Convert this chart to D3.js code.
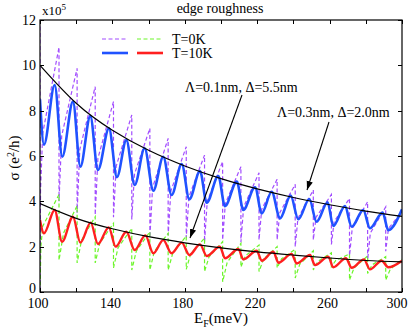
<!DOCTYPE html>
<html>
<head>
<meta charset="utf-8">
<script src="https://cdn.jsdelivr.net/npm/d3@7/dist/d3.min.js"></script>
<style>
body { margin: 0; background: #fff; }
svg { display: block; }
svg text { font-family: 'Liberation Serif', 'DejaVu Serif', serif; }
</style>
</head>
<body>
<div id="chart"></div>
<script>
'use strict';

// Energy of the dips (subband edges), meV
var dipE = [110.5, 120.5, 130.5, 140.6, 150.7, 160.7, 170.8, 180.8, 190.9, 200.9,
	211, 221, 231, 241, 251, 261, 271, 281, 291];

// T=0K, upper curve (purple, dashed): value just before each dip, just after, and a knee 1.5 meV later
var purpleStart = [[100, 12], [100, 0], [100.3, 4.5], [101.5, 7.0]];
var purplePeak = [10.8, 9.87, 9.06, 8.4, 7.81, 7.22, 6.78, 6.41, 6.04, 5.75,
	5.53, 5.26, 4.97, 4.75, 4.5, 4.3, 4.13, 3.98, 3.75];
var purpleMin = [4.0, 3.5, 3.4, 3.3, 3.2, 2.4, 2.5, 2.4, 2.2, 2.3,
	2.2, 2.3, 2.3, 2.0, 2.3, 2.1, 1.6, 1.4, 1.8];
var purpleKnee = [6.9, 6.3, 5.9, 5.55, 5.2, 4.6, 4.45, 4.2, 4.0, 3.9,
	3.75, 3.65, 3.5, 3.25, 3.3, 3.1, 2.8, 2.6, 2.8];
var purpleKneeDE = 1.5;
var purpleEnd = [300, 3.55];

// T=0K, lower curve (green, dashed)
var greenStart = [[100, 0], [100.5, 2.0], [101.5, 2.9]];
var greenPeak = [4.3, 3.8, 3.32, 3.03, 2.81, 2.66, 2.59, 2.47, 2.37, 2.22,
	2.15, 2.07, 2.0, 1.88, 1.82, 1.73, 1.68, 1.59, 1.56];
var greenMin = [1.4, 1.28, 1.28, 1.06, 0.97, 0.97, 0.97, 1.0, 0.9, 0.45,
	1.1, 0.9, 1.06, 0.62, 0.97, 1.12, 0.53, 0.82, 0.53];
var greenKnee = [2.6, 2.3, 2.15, 1.95, 1.8, 1.8, 1.7, 1.7, 1.55, 1.3,
	1.6, 1.45, 1.47, 1.22, 1.35, 1.4, 1.06, 1.2, 1.0];
var greenKneeDE = 2.5;
var greenEnd = [300, 1.45];

// T=10K, upper curve (blue): turning points
var blueE = [100, 102.2, 108.1, 112.3, 118.2, 122.3, 127.8, 132, 138.1, 142.5,
	147.7, 152.3, 157.8, 162.6, 168.1, 172.7, 178.3, 182.5, 188.4, 192.1,
	198.5, 202.2, 208.7, 212.3, 218.8, 222.5, 228, 232.6, 238.5, 242.7,
	248.8, 252.8, 258.9, 262, 268.5, 272.2, 278.6, 282.3, 289.3, 292.4, 300];
var blueS = [8.5, 6.5, 9.13, 5.97, 8.4, 5.53, 7.76, 5.38, 7.22, 5.07,
	6.7, 4.72, 6.34, 4.47, 5.97, 4.28, 5.65, 4.09, 5.34, 3.94,
	5.12, 3.79, 4.87, 3.62, 4.62, 3.47, 4.42, 3.25, 4.25, 3.21,
	4.10, 3.10, 3.96, 2.91, 3.79, 2.88, 3.62, 2.81, 3.50, 2.73, 3.65];

// T=10K, lower curve (red): turning points
var redE = [100, 102.2, 108.1, 112.2, 118.2, 122.3, 128, 132, 138, 141.8,
	147.7, 152.3, 158.2, 162.6, 168.1, 172.7, 178.3, 182.5, 188.4, 192.1,
	199.4, 202.2, 209.6, 212.3, 219.7, 222.5, 228.9, 231.7, 239, 241.8,
	249.2, 251.9, 259.3, 262, 269, 272.2, 279, 282.3, 288.8, 292.4, 300];
var redS = [3.18, 2.59, 3.62, 2.22, 3.32, 2.18, 3.06, 2.12, 2.85, 2.0,
	2.66, 1.85, 2.5, 1.71, 2.29, 1.71, 2.18, 1.63, 2.10, 1.59,
	2.0, 1.49, 1.90, 1.44, 1.82, 1.38, 1.78, 1.29, 1.68, 1.26,
	1.63, 1.19, 1.56, 1.09, 1.49, 1.07, 1.44, 1.0, 1.38, 1.09, 1.38];

// Black envelope curves
var envE = [100, 120, 140, 160, 180, 200, 220, 240, 260, 280, 300];
var envUpper = [10, 8.33, 7.14, 6.25, 5.56, 5.0, 4.55, 4.17, 3.85, 3.57, 3.34];
var envLower = [3.9, 3.25, 2.79, 2.44, 2.17, 1.95, 1.77, 1.63, 1.5, 1.39, 1.33];

var xTicks = [100, 120, 140, 160, 180, 200, 220, 240, 260, 280, 300];
var xLabels = [100, 140, 180, 220, 260, 300];
var yTicks = [0, 2, 4, 6, 8, 10, 12];

var colors = {
	purple: '#a24dff',
	green: '#6cf52a',
	blue: '#2052ff',
	red: '#ff1f1f',
};
var FONT = "'Liberation Serif', 'DejaVu Serif', serif";

// Builds the sawtooth path for a T=0K curve
function sawtooth(start, peak, min, knee, kneeDE, end) {
	var pts = start.slice();
	dipE.forEach(function(e, i) {
		pts.push([e, peak[i]]);
		pts.push([e, min[i]]);
		pts.push([e + kneeDE, knee[i]]);
	});
	pts.push(end);
	return pts;
}
function zip(a, b) {
	return a.map(function(v, i) { return [v, b[i]]; });
}

var W = 408, H = 332;
var margin = {top: 20, right: 6, bottom: 40, left: 40};
var width = W - margin.left - margin.right;
var height = H - margin.top - margin.bottom;

var svg = d3.select('#chart').append('svg')
	.attr('width', W)
	.attr('height', H)
	.attr('font-family', FONT)
	;

var xScale = d3.scaleLinear().domain([100, 300]).range([margin.left, margin.left + width]);
var yScale = d3.scaleLinear().domain([0, 12]).range([margin.top + height, margin.top]);

svg.append('clipPath').attr('id', 'plot')
	.append('rect')
	.attr('x', margin.left).attr('y', margin.top)
	.attr('width', width).attr('height', height);

var line = d3.line()
	.x(function(d) { return xScale(d[0]); })
	.y(function(d) { return yScale(d[1]); })
	;
var smooth = d3.line()
	.x(function(d) { return xScale(d[0]); })
	.y(function(d) { return yScale(d[1]); })
	.curve(d3.curveMonotoneX)
	;
var natural = d3.line()
	.x(function(d) { return xScale(d[0]); })
	.y(function(d) { return yScale(d[1]); })
	.curve(d3.curveNatural)
	;

var data = svg.append('g').attr('clip-path', 'url(#plot)');

// T=0K dashed curves
data.append('path')
	.attr('d', line(sawtooth(purpleStart, purplePeak, purpleMin, purpleKnee, purpleKneeDE, purpleEnd)))
	.attr('fill', 'none')
	.attr('stroke', colors.purple)
	.attr('stroke-width', 1.2)
	.attr('stroke-dasharray', '4,2.5');
data.append('path')
	.attr('d', line(sawtooth(greenStart, greenPeak, greenMin, greenKnee, greenKneeDE, greenEnd)))
	.attr('fill', 'none')
	.attr('stroke', colors.green)
	.attr('stroke-width', 1.2)
	.attr('stroke-dasharray', '4,2.5');

// T=10K solid curves
data.append('path')
	.attr('d', smooth(zip(blueE, blueS)))
	.attr('fill', 'none')
	.attr('stroke', colors.blue)
	.attr('stroke-width', 2.6);
data.append('path')
	.attr('d', smooth(zip(redE, redS)))
	.attr('fill', 'none')
	.attr('stroke', colors.red)
	.attr('stroke-width', 2.4);

// Envelopes
[envUpper, envLower].forEach(function(env) {
	data.append('path')
		.attr('d', natural(zip(envE, env)))
		.attr('fill', 'none')
		.attr('stroke', '#000')
		.attr('stroke-width', 1.2);
});

// Frame
svg.append('rect')
	.attr('x', margin.left).attr('y', margin.top)
	.attr('width', width).attr('height', height)
	.attr('fill', 'none')
	.attr('stroke', '#000')
	.attr('stroke-width', 1.2);

// Inward ticks on all four sides
var tickLen = 4;
var ticks = svg.append('g').attr('stroke', '#000').attr('stroke-width', 1);
xTicks.forEach(function(t) {
	var x = Math.round(xScale(t)) + 0.5;
	ticks.append('line').attr('x1', x).attr('x2', x)
		.attr('y1', margin.top + height).attr('y2', margin.top + height - tickLen);
	ticks.append('line').attr('x1', x).attr('x2', x)
		.attr('y1', margin.top).attr('y2', margin.top + tickLen);
});
yTicks.forEach(function(t) {
	var y = Math.round(yScale(t)) + 0.5;
	ticks.append('line').attr('y1', y).attr('y2', y)
		.attr('x1', margin.left).attr('x2', margin.left + tickLen);
	ticks.append('line').attr('y1', y).attr('y2', y)
		.attr('x1', margin.left + width).attr('x2', margin.left + width - tickLen);
});

// Tick labels (the last one is pulled in so it stays inside the picture)
svg.append('g').selectAll('text')
	.data(xLabels)
	.enter().append('text')
	.attr('x', function(d) { return Math.min(xScale(d) - 2, W - 11); })
	.attr('y', 308)
	.attr('text-anchor', 'middle')
	.attr('font-size', 14)
	.text(function(d) { return d; });
svg.append('g').selectAll('text')
	.data(yTicks)
	.enter().append('text')
	.attr('x', margin.left - 4)
	.attr('y', function(d) { return yScale(d) - (d === 0 ? 4 : 0); })
	.attr('dy', '0.35em')
	.attr('text-anchor', 'end')
	.attr('font-size', 14)
	.text(function(d) { return d; });

// Exponent
var expo = svg.append('text')
	.attr('x', 42).attr('y', 15)
	.attr('font-size', 13);
expo.append('tspan').text('x10');
expo.append('tspan').attr('dy', -5).attr('font-size', 9).text('5');

// Title
svg.append('text')
	.attr('x', 220).attr('y', 13)
	.attr('text-anchor', 'middle')
	.attr('font-size', 14)
	.text('edge roughness');

// Axis titles
var xt = svg.append('text')
	.attr('x', 221).attr('y', 323)
	.attr('text-anchor', 'middle')
	.attr('font-size', 15);
xt.append('tspan').text('E');
xt.append('tspan').attr('dy', 4).attr('font-size', 10).text('F');
xt.append('tspan').attr('dy', -4).text('(meV)');

var yt = svg.append('text')
	.attr('transform', 'translate(19,158) rotate(-90)')
	.attr('text-anchor', 'middle')
	.attr('font-size', 15);
yt.append('tspan').text('σ (e');
yt.append('tspan').attr('dy', -5).attr('font-size', 10).text('2');
yt.append('tspan').attr('dy', 5).text('/h)');

// Legend
var legend = svg.append('g');
var legendRows = [
	{y: 39, left: colors.purple, right: colors.green, dash: '4,2.5', w: 1.2, label: 'T=0K'},
	{y: 53, left: colors.blue, right: colors.red, dash: null, w: 2.6, label: 'T=10K'},
];
legendRows.forEach(function(r) {
	legend.append('line')
		.attr('x1', 102).attr('x2', 128).attr('y1', r.y).attr('y2', r.y)
		.attr('stroke', r.left).attr('stroke-width', r.w)
		.attr('stroke-dasharray', r.dash);
	legend.append('line')
		.attr('x1', 137).attr('x2', 163).attr('y1', r.y).attr('y2', r.y)
		.attr('stroke', r.right).attr('stroke-width', r.w)
		.attr('stroke-dasharray', r.dash);
	legend.append('text')
		.attr('x', 172).attr('y', r.y + 4.5)
		.attr('font-size', 14)
		.text(r.label);
});

// Annotations with arrows
svg.append('defs').append('marker')
	.attr('id', 'arrow')
	.attr('viewBox', '0 0 10 10')
	.attr('refX', 10).attr('refY', 5)
	.attr('markerWidth', 9).attr('markerHeight', 9)
	.attr('markerUnits', 'userSpaceOnUse')
	.attr('orient', 'auto')
	.append('path')
	.attr('d', 'M0,1.5L10,5L0,8.5Z')
	.attr('fill', '#000');

var notes = [
	{text: 'Λ=0.1nm, Δ=5.5nm', tx: 185, ty: 92, from: [242, 95], to: [190, 238]},
	{text: 'Λ=0.3nm, Δ=2.0nm', tx: 277, ty: 117, from: [329, 122], to: [307, 190]},
];
notes.forEach(function(n) {
	svg.append('text')
		.attr('x', n.tx).attr('y', n.ty)
		.attr('font-size', 14)
		.text(n.text);
	svg.append('line')
		.attr('x1', n.from[0]).attr('y1', n.from[1])
		.attr('x2', n.to[0]).attr('y2', n.to[1])
		.attr('stroke', '#000')
		.attr('stroke-width', 1.1)
		.attr('marker-end', 'url(#arrow)');
});
</script>
</body>
</html>
